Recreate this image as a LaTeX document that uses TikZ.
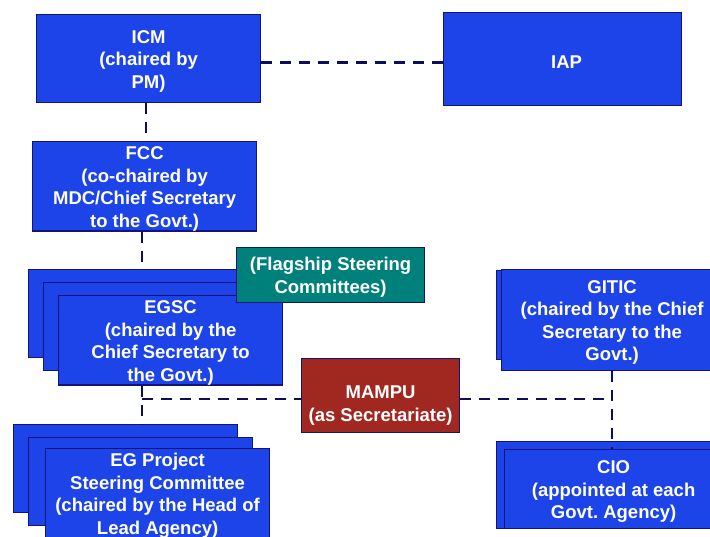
\documentclass[tikz,border=0pt]{standalone}
\usepackage{fontspec}
\setmainfont{Liberation Sans}
\usetikzlibrary{calc}
\frenchspacing
\definecolor{boxblue}{RGB}{28,68,232}
\definecolor{edgenavy}{RGB}{20,20,120}
\definecolor{linknavy}{RGB}{13,13,92}
\definecolor{steerteal}{RGB}{0,128,122}
\definecolor{secred}{RGB}{160,40,32}
% taller first line, lowers a block of text by about 2pt
\newcommand\boxlead{\rule{0pt}{18pt}}
\tikzset{
  labelfont/.style={text=white, align=center,
    font=\fontsize{18.5}{22.5}\selectfont\bfseries\frenchspacing},
  unit/.style={draw=edgenavy, line width=1.2pt, fill=boxblue, inner sep=0pt,
    anchor=north west, labelfont},
  stdsize/.style={minimum width=224pt, minimum height=88pt},
  link/.style={draw=linknavy, line width=2.8pt, dash pattern=on 11pt off 8pt},
}
\begin{document}
\begin{tikzpicture}[x=1pt,y=-1pt]
\useasboundingbox (0,0) rectangle (710,536);

% top level
\node[unit, stdsize] (icm) at (36,14) {\boxlead ICM\\(chaired by\\PM)};
\node[unit, minimum width=238pt, minimum height=93pt] (iap) at (443,12) {\boxlead\hspace*{8pt}IAP};
\node[unit, stdsize] (fcc) at (32,141) {\boxlead FCC\\(co-chaired by\\MDC/Chief Secretary\\to the Govt.)};

% EGSC stack
\node[unit, stdsize] (egscA) at (28,269) {};
\node[unit, stdsize] (egscB) at (43,282) {};
\node[unit, stdsize] (egsc) at (58,295) {\boxlead EGSC\\(chaired by the\\Chief Secretary to\\the Govt.)};
\node[unit, fill=steerteal, minimum width=188pt, minimum height=55pt] (flag) at (236,247)
  {\boxlead(Flagship Steering\\Committees)};

% GITIC stack
\node[unit, minimum width=224pt, minimum height=89pt] (giticA) at (496,270) {};
\node[unit, minimum width=221pt, minimum height=101pt] (gitic) at (501,269)
  {\boxlead GITIC\\(chaired by the Chief\\Secretary to the\\Govt.)};

% secretariat
\node[unit, fill=secred, minimum width=158pt, minimum height=74pt] (mampu) at (301,358) {};
\node[labelfont] (mamputext) at ($(mampu.center)+(0,10)$) {MAMPU\\(as Secretariate)};

% EG project stack
\node[unit, stdsize] (egA) at (13,424) {};
\node[unit, stdsize] (egB) at (28,437) {};
\node[unit, stdsize] (eg) at (45,448) {\boxlead EG Project\\Steering Committee\\(chaired by the Head of\\Lead Agency)};

% CIO stack
\node[unit, minimum width=224pt, minimum height=87pt] (cioA) at (496,441) {};
\node[unit, minimum width=218pt, minimum height=79pt] (cio) at (504,449)
  {\boxlead CIO\\(appointed at each\\Govt. Agency)};

% connectors
\coordinate (jl) at (142,399);
\coordinate (jr) at (612,399);
\draw[link] ($(icm.east)+(0,4)$) -- ($(icm.east -| iap.west)+(0,4)$);
\draw[link] (icm.south -| 146,0) -- (fcc.north -| 146,0);
\draw[link] (fcc.south -| jl) -- (egscA.north -| jl);
\draw[link] (egsc.south -| jl) -- (egA.north -| jl);
\draw[link] (jl) -- (mampu.west |- jl);
\draw[link] (mampu.east |- jr) -- (jr);
\draw[link] (gitic.south -| jr) -- (cio.north -| jr);
\end{tikzpicture}
\end{document}
